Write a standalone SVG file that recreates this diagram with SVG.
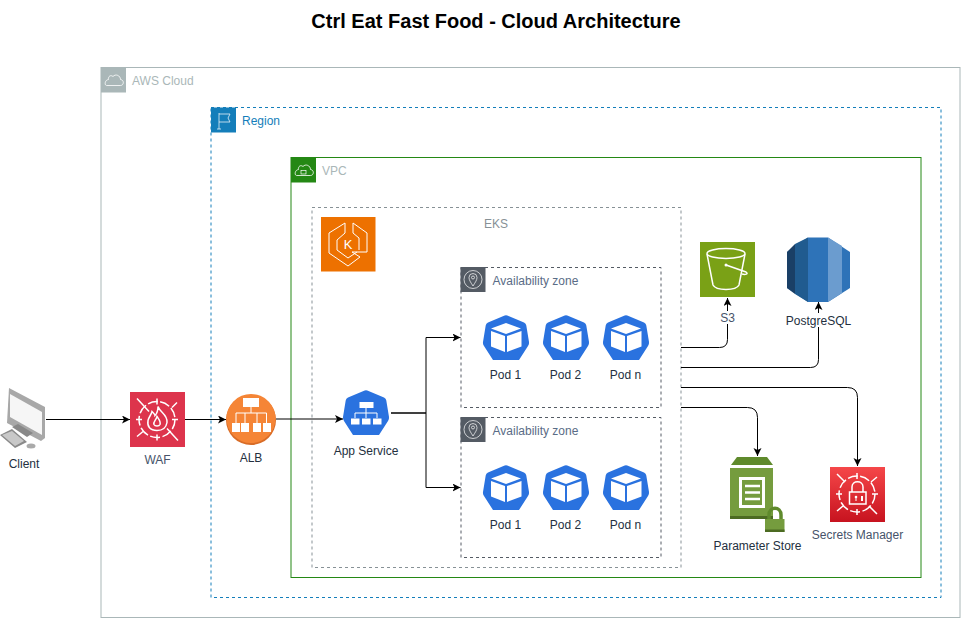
<svg xmlns="http://www.w3.org/2000/svg" width="961" height="618" viewBox="0 0 961 618">
<style>
text{font-family:"Liberation Sans",Arial,sans-serif;font-size:12px}
.m{text-anchor:middle}
.dk{fill:#232f3e}
.gr{fill:#46536a}
.c{fill:none;stroke:#000;stroke-width:1;marker-end:url(#arr)}
.w{fill:none;stroke:#fff;stroke-width:1.500}
.wt{fill:none;stroke:#fff;stroke-width:1}
</style>
<defs>
<marker id="arr" markerUnits="userSpaceOnUse" markerWidth="9" markerHeight="9" refX="8" refY="4" orient="auto"><path d="M0 0L8 4L0 8L2 4Z" fill="#000"/></marker>
<linearGradient id="red" x1="0" y1="0" x2="0" y2="1"><stop offset="0" stop-color="#f54749"/><stop offset="1" stop-color="#c7131f"/></linearGradient>
<path id="hepta" d="M20.500 1Q23-.5 25.500 1L41 7.500Q43 8.500 43.300 10.500L46 27Q46.300 29 45 31L36 45H10L1 31Q-.3 29 0 27L2.700 10.500Q3 8.500 5 7.500Z" fill="#2a72df"/>
<g id="pod">
<use href="#hepta"/>
<path d="M23 8L8 13.500L23 19L38 13.500Z" fill="#fff"/>
<path d="M8 16L22 21V37L8 31.500Z" fill="#fff"/>
<path d="M24 21L38.500 16V31.500L24 37Z" fill="#fff"/>
</g>
<g id="zone">
<rect x=".5" y=".5" width="200" height="140" fill="#fff" stroke="#545b64" stroke-dasharray="3 3"/>
<rect x="0" y="0" width="25" height="25" fill="#545b64"/>
<circle cx="12.500" cy="12.500" r="9" fill="none" stroke="#fff" stroke-width=".7"/>
<path d="M12.500 19C10 15 8.500 13 8.500 10.500A4 4 0 0 1 16.500 10.500C16.500 13 15 15 12.500 19Z" fill="none" stroke="#fff" stroke-width=".7"/>
<circle cx="12.500" cy="10.500" r="1.500" fill="none" stroke="#fff" stroke-width=".7"/>
<text x="32" y="18" fill="#5a6c86">Availability zone</text>
<use href="#pod" x="22.500" y="48"/><use href="#pod" x="82.500" y="48"/><use href="#pod" x="142.500" y="48"/>
<text x="45" y="112" class="m dk">Pod 1</text><text x="105" y="112" class="m dk">Pod 2</text><text x="165" y="112" class="m dk">Pod n</text>
</g>
</defs>
<rect width="961" height="618" fill="#fff"/>
<text x="496" y="28" class="m" style="font-size:20px;font-weight:bold" fill="#000">Ctrl Eat Fast Food - Cloud Architecture</text>

<g id="aws-cloud">
<rect x="101" y="67.500" width="859" height="550" fill="#fff" stroke="#aab7b8"/>
<rect x="101" y="67.500" width="25" height="25" fill="#aab7b8"/>
<path d="M106.500 85.500H120.500C124 85.500 124.500 80 120.500 79.500C120.500 75.500 115.500 73.500 113 76.500C110.500 74.500 108 76.500 108.500 79.500C104.500 80 104.500 85.500 106.500 85.500Z" fill="none" stroke="#fff" stroke-width=".8"/>
<text x="132" y="85" fill="#aab7b8">AWS Cloud</text>
</g>
<g id="region">
<rect x="211" y="107.500" width="730" height="490" fill="#fff" stroke="#147eba" stroke-dasharray="3 3"/>
<rect x="211" y="107.500" width="25" height="25" fill="#147eba"/>
<path d="M219 113V129M217 129H221M219 114H230L228 118L230 122H219" fill="none" stroke="#fff" stroke-width=".7"/>
<text x="242" y="125" fill="#147eba">Region</text>
</g>
<g id="vpc">
<rect x="291" y="157.500" width="630" height="420" fill="#fff" stroke="#248814"/>
<rect x="291" y="157.500" width="25" height="25" fill="#248814"/>
<path d="M296.500 175.500H310.500C314 175.500 314.500 170 310.500 169.500C310.500 165.500 305.500 163.500 303 166.500C300.500 164.500 298 166.500 298.500 169.500C294.500 170 294.500 175.500 296.500 175.500Z" fill="none" stroke="#fff" stroke-width=".8"/>
<rect x="301" y="170.500" width="5" height="3.500" fill="none" stroke="#fff" stroke-width=".7"/>
<text x="322" y="175" fill="#aab7b8">VPC</text>
</g>
<g id="eks">
<rect x="312" y="207.500" width="369" height="360" fill="#fff" stroke="#879196" stroke-dasharray="3 3"/>
<text x="496" y="228" class="m" fill="#879196">EKS</text>
<rect x="321" y="217" width="54.500" height="54.500" fill="#ed7100"/>
<path d="M345 223L329 233V253L348 266L360 257L352 252H367V233L353 223V233L359 238V250M345 223V233L337 240V250L348 258L357 252" class="wt"/>
<text x="348" y="249" class="m" style="font-size:13px" fill="#fff">K</text>
</g>

<g id="connectors">
<path class="c" d="M46 419.500H130"/>
<path class="c" d="M185 419.500H226"/>
<path class="c" d="M276 419H343"/>
<path class="c" d="M391 413H426V337.500H460.500"/>
<path class="c" d="M391 413H426V487.500H460.500"/>
<path class="c" d="M681 347.500H719.500Q727.500 347.500 727.500 339.500V298"/>
<path class="c" d="M681 367.500H810.500Q818.500 367.500 818.500 359.500V302"/>
<path class="c" d="M681 387.500H847.500Q857.500 387.500 857.500 397.500V466"/>
<path class="c" d="M681 407.500H747.500Q757.500 407.500 757.500 417.500V456"/>
</g>

<g id="az1"><use href="#zone" x="460.500" y="267"/></g>
<g id="az2"><use href="#zone" x="460.500" y="417"/></g>

<g id="client">
<path d="M9 388L45 407V438L41 441L7 423Z" fill="#a8a8a8"/>
<path d="M10 394L42 412V435L10 417Z" fill="#f6f6f6"/>
<path d="M0 435L12 429L27 442L15 448Z" fill="#8a8a8a"/>
<path d="M2 435L12 431L24 441L15 446Z" fill="#c8c8c8"/>
<path d="M12 427L18 424L33 433L27 437Z" fill="#888"/>
<ellipse cx="31" cy="446" rx="4.500" ry="2.500" fill="#aaa"/>
<text x="24" y="468" class="m dk">Client</text>
</g>
<g id="waf">
<rect x="130" y="392" width="55" height="55" fill="#dd344c"/>
<g transform="translate(157 419.500)">
<circle r="18" class="w" stroke-dasharray="10 2.500"/>
<path d="M-20-21L-8-8M10 9L21 21M20-17L15-12M-20 17L-14 12M-21 0H-15M15 0H21M0-21V-15M0 15V21" class="w"/>
<path d="M1-13C3-7 11-5 10 3C9 9 5 11 0 11C-7 11-10 7-9 1C-8-3-6-4-5-8C-3-6-2-5-2-4C0-6 1-9 1-13Z" class="w"/>
<path d="M0-3C2 0 4 2 3 5C2 7-2 7-3 5C-4 2-1 1 0-3Z" class="w"/>
</g>
<text x="157.500" y="464" class="m gr">WAF</text>
</g>
<g id="alb">
<circle cx="251" cy="420" r="25" fill="#d86c27"/>
<circle cx="251" cy="418.500" r="24.500" fill="#f58536"/>
<path d="M251 406V413M236 423V413H266.500V423M245 413V423M257 413V423" fill="none" stroke="#fff"/>
<rect x="243" y="398" width="16" height="9" fill="#fff"/>
<rect x="232" y="423" width="8" height="9" fill="#fff"/><rect x="241" y="423" width="8" height="9" fill="#fff"/><rect x="253" y="423" width="8" height="9" fill="#fff"/><rect x="263" y="423" width="8" height="9" fill="#fff"/>
<text x="251" y="462" class="m dk">ALB</text>
</g>
<g id="app-service">
<use href="#hepta" x="343" y="390"/>
<path d="M366 407V413M355 418V413H377V418M366 413V418" fill="none" stroke="#fff"/>
<rect x="359.500" y="402" width="14" height="6" fill="#fff"/>
<rect x="351" y="418.500" width="8.500" height="6" fill="#fff"/><rect x="362" y="418.500" width="8.500" height="6" fill="#fff"/><rect x="373" y="418.500" width="8.500" height="6" fill="#fff"/>
<text x="366" y="455" class="m dk">App Service</text>
</g>
<g id="s3">
<rect x="700" y="242" width="55" height="55" fill="#7aa116"/>
<ellipse cx="726" cy="253.500" rx="19" ry="5" class="w"/>
<path d="M707 254L713 285C716 291 736 291 739 285L745 254" class="w"/>
<path d="M726 265L746 272C749 274 745 275 742 274" class="w"/>
<circle cx="726" cy="265" r="1.500" fill="#fff"/>
<rect x="719" y="311" width="17" height="13" fill="#fff"/>
<text x="727.500" y="322" class="m gr">S3</text>
</g>
<g id="postgresql">
<path d="M787 252L808 237.500H828L850 252V288L828 302H808L787 288Z" fill="#2e73b8"/>
<path d="M808 237.500V302L795 294V244Z" fill="#205b8f"/>
<path d="M795 244V294L787 288V252Z" fill="#1a3f66"/>
<path d="M828 237.500L842 246V293L828 302Z" fill="#6b9ccf"/>
<rect x="786" y="313" width="66" height="14" fill="#fff"/>
<text x="818.500" y="325" class="m dk">PostgreSQL</text>
</g>
<g id="parameter-store">
<path d="M731 465L737 457H767L773 465Z" fill="#5f8a2c"/>
<rect x="730" y="468" width="43" height="51" fill="#759c3e"/>
<rect x="730" y="516" width="43" height="3" fill="#4c6b22"/>
<rect x="739" y="477" width="26" height="31" fill="#fff"/>
<rect x="742" y="480" width="20" height="25" fill="#759c3e"/>
<path d="M745 486H760M745 492.500H760M745 499H760" stroke="#fff" stroke-width="2.500"/>
<path d="M769 520V515C769 506 781 506 781 515V520" fill="none" stroke="#5f8a2c" stroke-width="3.500"/>
<rect x="765" y="519" width="19.500" height="13" fill="#759c3e"/>
<rect x="765" y="529.500" width="19.500" height="2.500" fill="#4c6b22"/>
<text x="757.500" y="550" class="m dk">Parameter Store</text>
</g>
<g id="secrets-manager">
<rect x="830" y="467" width="55" height="55" fill="url(#red)"/>
<g transform="translate(857 494)">
<circle r="18" class="w" stroke-dasharray="10 2.500"/>
<path d="M-20-20L-12-12M12 12L20 20M20-17L14-12M-20 17L-14 12M-21 0H-15M15 0H21M0-21V-15M0 15V21" class="w"/>
</g>
<path d="M852 492V487C852 480 863 480 863 487V492" class="w"/>
<rect x="849.500" y="492" width="16.500" height="12" class="w"/>
<circle cx="856" cy="497" r="1.300" fill="#fff"/><path d="M856 498V501" class="wt"/>
<path d="M862 496V501" stroke="#fff" stroke-width="2" fill="none"/>
<text x="857.500" y="539" class="m gr">Secrets Manager</text>
</g>
</svg>
